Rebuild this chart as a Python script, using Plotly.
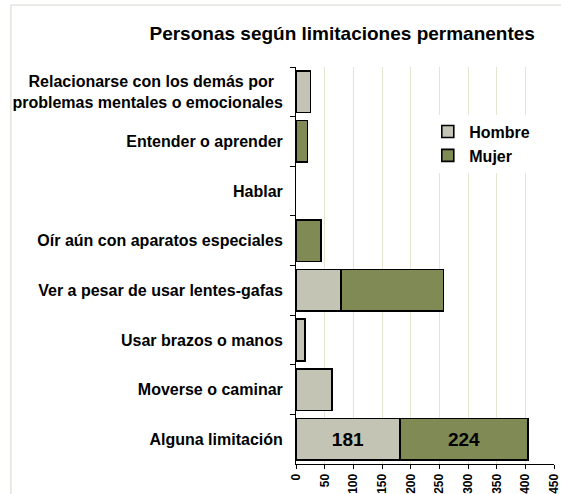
import plotly.graph_objects as go

# Categories listed top to bottom as displayed
categorias = [
    "Relacionarse con los demás por\u00a0\u00a0<br>problemas mentales o emocionales",
    "Entender o aprender",
    "Hablar",
    "Oír aún con aparatos especiales",
    "Ver a pesar de usar lentes-gafas",
    "Usar brazos o manos",
    "Moverse o caminar",
    "Alguna limitación",
]
hombre = [25, None, None, None, 78, 16, 63, 181]
mujer = [None, 20, None, 44, 179, None, None, 224]
etiquetas_hombre = ["", "", "", "", "", "", "", "181"]
etiquetas_mujer = ["", "", "", "", "", "", "", "224"]
x_ticks = [0, 50, 100, 150, 200, 250, 300, 350, 400, 450]

FONT = "Liberation Sans, Arial, sans-serif"

fig = go.Figure()
fig.add_trace(go.Bar(
    y=categorias, x=hombre, name="Hombre", orientation="h",
    marker=dict(color="#c3c4b3", line=dict(color="#000000", width=1.6)),
    text=etiquetas_hombre, textposition="inside", insidetextanchor="middle",
    textfont=dict(family=FONT, size=19, color="#000000", weight="bold"),
))
fig.add_trace(go.Bar(
    y=categorias, x=mujer, name="Mujer", orientation="h",
    marker=dict(color="#7f8a55", line=dict(color="#000000", width=1.6)),
    text=etiquetas_mujer, textposition="inside", insidetextanchor="middle",
    textfont=dict(family=FONT, size=19, color="#000000", weight="bold"),
))

# outer frame of the chart area (left and top edges visible)
fig.add_shape(type="rect", xref="paper", yref="paper",
              x0=-1.105, x1=1.2, y0=-0.2, y1=1.156,
              line=dict(color="#d6d6cc", width=1), fillcolor="rgba(0,0,0,0)",
              layer="below")

fig.update_layout(
    width=561, height=494,
    margin=dict(l=296, r=7, t=67, b=30),
    paper_bgcolor="#ffffff", plot_bgcolor="#ffffff",
    barmode="stack", bargap=0.16,
    font=dict(family=FONT, color="#000000"),
    title=dict(text="Personas según limitaciones permanentes",
               x=0.61, xref="container", xanchor="center",
               y=0.933, yref="container", yanchor="middle",
               font=dict(family=FONT, size=19, color="#000000", weight="bold")),
    showlegend=True,
    legend=dict(x=0.505, y=0.88, xanchor="left", yanchor="top",
                bgcolor="#ffffff", borderwidth=0, traceorder="normal",
                font=dict(family=FONT, size=16, color="#000000", weight="bold"),
                itemwidth=33, tracegroupgap=2),
    xaxis=dict(range=[0, 450], tickvals=x_ticks, ticktext=[str(v) for v in x_ticks],
               tickangle=-90, showgrid=True, gridcolor="#e4e4d2", gridwidth=1,
               zeroline=False, showline=True, linecolor="#000000", linewidth=1,
               ticks="outside", ticklen=4, tickcolor="#000000",
               ticklabeloverflow="allow", automargin=False,
               tickfont=dict(family=FONT, size=12, color="#000000", weight="bold")),
    yaxis=dict(autorange="reversed", type="category", showgrid=False,
               showline=True, linecolor="#000000", linewidth=1,
               ticks="outside", ticklen=5, tickcolor="#000000", tickson="boundaries",
               ticklabelstandoff=9, automargin=False,
               tickfont=dict(family=FONT, size=16, color="#000000", weight="bold")),
)

fig.write_html("out.html")
